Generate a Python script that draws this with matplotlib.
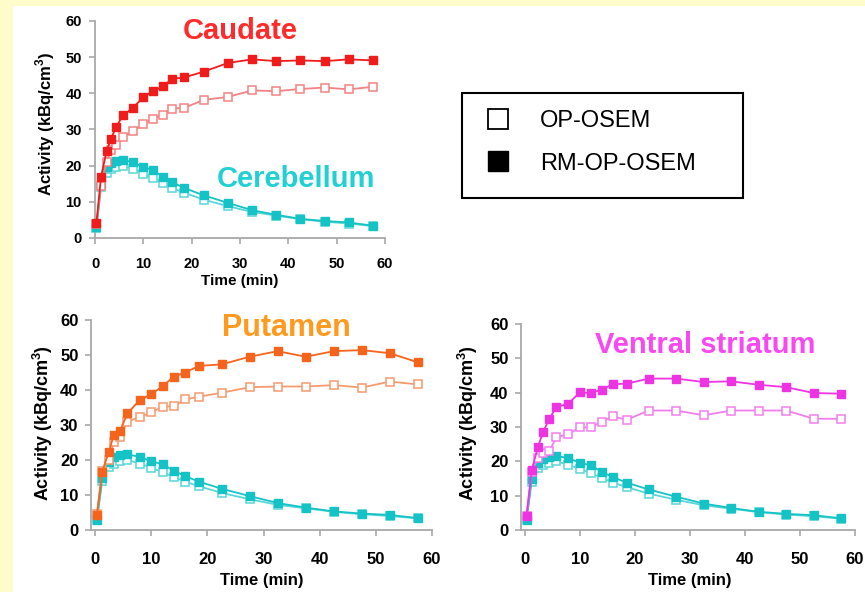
import matplotlib
matplotlib.use("Agg")
import matplotlib.pyplot as plt
from matplotlib.patches import Rectangle
from matplotlib.lines import Line2D

plt.rcParams['font.family'] = ['Liberation Sans', 'DejaVu Sans']

# ---------------- data ----------------
time_min = [0.3, 1.25, 2.4, 3.3, 4.4, 5.75, 7.9, 10, 12, 14, 16, 18.5,
            22.5, 27.5, 32.5, 37.5, 42.5, 47.5, 52.5, 57.5]

cerebellum_rm = [3.0, 15.0, 19.5, 20.8, 21.3, 21.6, 20.9, 19.6, 18.8, 16.9, 15.4, 13.8,
                 11.8, 9.7, 7.7, 6.4, 5.3, 4.7, 4.3, 3.4]
cerebellum_op = [2.8, 14.0, 18.0, 19.0, 19.6, 20.0, 19.0, 17.8, 16.5, 15.2, 13.8, 12.5,
                 10.6, 8.8, 7.2, 6.2, 5.2, 4.5, 4.0, 3.3]

caudate_rm = [4.2, 17.0, 24.0, 27.5, 30.7, 33.9, 36.0, 39.0, 40.6, 41.9, 44.0, 44.4,
              46.0, 48.4, 49.4, 48.9, 49.1, 48.9, 49.4, 49.1]
caudate_op = [4.0, 14.5, 21.0, 24.4, 25.6, 27.9, 29.5, 31.5, 33.0, 34.1, 35.8, 36.0,
              38.2, 39.0, 40.8, 40.6, 41.2, 41.6, 41.1, 41.8]

putamen_rm = [4.3, 16.7, 22.2, 27.1, 28.3, 33.3, 37.1, 38.8, 41.1, 43.8, 45.0, 46.9,
              47.3, 49.5, 51.1, 49.5, 51.1, 51.4, 50.5, 47.9]
putamen_op = [4.5, 17.0, 20.0, 25.2, 26.7, 31.0, 32.2, 33.6, 35.2, 35.4, 37.3, 38.1,
              39.2, 40.8, 41.0, 41.0, 41.4, 40.7, 42.4, 41.6]

ventral_rm = [4.2, 17.5, 24.3, 28.5, 32.3, 35.8, 36.8, 40.1, 39.9, 40.9, 42.5, 42.6,
              44.1, 44.1, 43.1, 43.3, 42.3, 41.6, 39.9, 39.7]
ventral_op = [4.0, 17.0, 21.0, 22.4, 22.9, 27.0, 27.9, 29.9, 29.9, 31.6, 33.1, 32.1,
              34.8, 34.8, 33.4, 34.8, 34.8, 34.8, 32.4, 32.4]

ticks = [0, 10, 20, 30, 40, 50, 60]
legend_labels = ["OP-OSEM", "RM-OP-OSEM"]

# ---------------- styling ----------------
W, H = 865, 592
fig = plt.figure(figsize=(W / 100, H / 100), dpi=100, facecolor='white')

plt.rcParams['mathtext.fontset'] = 'custom'
plt.rcParams['mathtext.bf'] = 'Liberation Sans:bold'
plt.rcParams['mathtext.rm'] = 'Liberation Sans'

yellow = '#FFFCCB'
fig.add_artist(Rectangle((0, 1 - 6 / H), 1, 6 / H, transform=fig.transFigure,
                         facecolor=yellow, edgecolor='none', zorder=-10))
fig.add_artist(Rectangle((0, 0), 13 / W, 1, transform=fig.transFigure,
                         facecolor=yellow, edgecolor='none', zorder=-10))

cyan_rm, cyan_op = '#15C3C6', '#5AD6D8'


def fx(px):
    return px / W


def fy(py):
    return 1 - py / H


def make_axes(left, right, top, bottom, xmin, tick_fs, label_fs, xpad, ypad,
              ylab_px, xlab_px):
    ax = fig.add_axes([fx(left), fy(bottom), (right - left) / W, (bottom - top) / H])
    ax.set_facecolor('none')
    ax.set_xlim(xmin, 60)
    ax.set_ylim(0, 60)
    ax.set_xticks(ticks)
    ax.set_yticks(ticks)
    for s in ['top', 'right']:
        ax.spines[s].set_visible(False)
    for s in ['left', 'bottom']:
        ax.spines[s].set_color('#A8A8A8')
        ax.spines[s].set_linewidth(1.3)
    ax.tick_params(axis='both', direction='out', length=4.5, width=1.2,
                   color='#A8A8A8', labelsize=tick_fs)
    ax.tick_params(axis='x', pad=xpad)
    ax.tick_params(axis='y', pad=ypad)
    for lab in ax.get_xticklabels() + ax.get_yticklabels():
        lab.set_fontweight('bold')
    ax.set_ylabel('Activity (kBq/cm$^\\mathbf{3}$)', fontsize=label_fs,
                  fontweight='bold', va='center', ha='center')
    ax.set_xlabel('Time (min)', fontsize=label_fs - 1, fontweight='bold',
                  va='center', ha='center')
    ax.yaxis.set_label_coords((ylab_px[0] - left) / (right - left),
                              (bottom - ylab_px[1]) / (bottom - top))
    ax.xaxis.set_label_coords((xlab_px[0] - left) / (right - left),
                              (bottom - xlab_px[1]) / (bottom - top))
    return ax


def plot_pair(ax, rm, op, c_rm, c_op, z):
    ax.plot(time_min, op, '-', color=c_op, lw=1.3, marker='s', ms=5.6,
            mfc='white', mec=c_op, mew=1.1, zorder=z, clip_on=False)
    ax.plot(time_min, rm, '-', color=c_rm, lw=1.3, marker='s', ms=5.8,
            mfc=c_rm, mec=c_rm, zorder=z + 1, clip_on=False)


# Top-left: Caudate
ax1 = make_axes(95, 385, 21, 238, 0, 10.5, 12, 9, 5, (45, 124), (240, 281))
plot_pair(ax1, cerebellum_rm, cerebellum_op, cyan_rm, cyan_op, 2)
plot_pair(ax1, caudate_rm, caudate_op, '#F01C1C', '#F48282', 4)

# Bottom-left: Putamen
ax2 = make_axes(91, 432, 320, 530, -0.75, 12, 13, 11, 4.5, (43, 423), (262, 581))
plot_pair(ax2, cerebellum_rm, cerebellum_op, cyan_rm, cyan_op, 2)
plot_pair(ax2, putamen_rm, putamen_op, '#F5641C', '#F59A6E', 4)

# Bottom-right: Ventral striatum
ax3 = make_axes(521, 855, 324, 530, -0.7, 12, 13, 11, 4.5, (468, 423), (690, 581))
plot_pair(ax3, cerebellum_rm, cerebellum_op, cyan_rm, cyan_op, 2)
plot_pair(ax3, ventral_rm, ventral_op, '#EE34E2', '#F27EEE', 4)

# Region titles
fig.text(fx(240.5), fy(39), 'Caudate', color='#FF2A2A', fontsize=21,
         fontweight='bold', ha='center', va='baseline')
fig.text(fx(295.5), fy(187), 'Cerebellum', color='#20D0D2', fontsize=21,
         fontweight='bold', ha='center', va='baseline')
fig.text(fx(286), fy(336), 'Putamen', color='#FF9A1E', fontsize=22,
         fontweight='bold', ha='center', va='baseline')
fig.text(fx(705), fy(353), 'Ventral striatum', color='#F848F2', fontsize=21,
         fontweight='bold', ha='center', va='baseline')

# Legend box
fig.add_artist(Rectangle((fx(462), fy(198)), 281 / W, 105 / H,
                         transform=fig.transFigure, fill=False,
                         edgecolor='black', linewidth=1.5))
handles = [Line2D([], [], ls='none', marker='s', ms=14, mfc='white', mec='black', mew=1.3),
           Line2D([], [], ls='none', marker='s', ms=14, mfc='black', mec='black')]
fig.legend(handles, legend_labels, loc='center left',
           bbox_to_anchor=(fx(486), fy(142.5)), bbox_transform=fig.transFigure,
           frameon=False, fontsize=17, handlelength=1.0, handletextpad=1.3,
           labelspacing=0.85, borderpad=0, borderaxespad=0)

fig.savefig('out.png', dpi=100, facecolor='white')
